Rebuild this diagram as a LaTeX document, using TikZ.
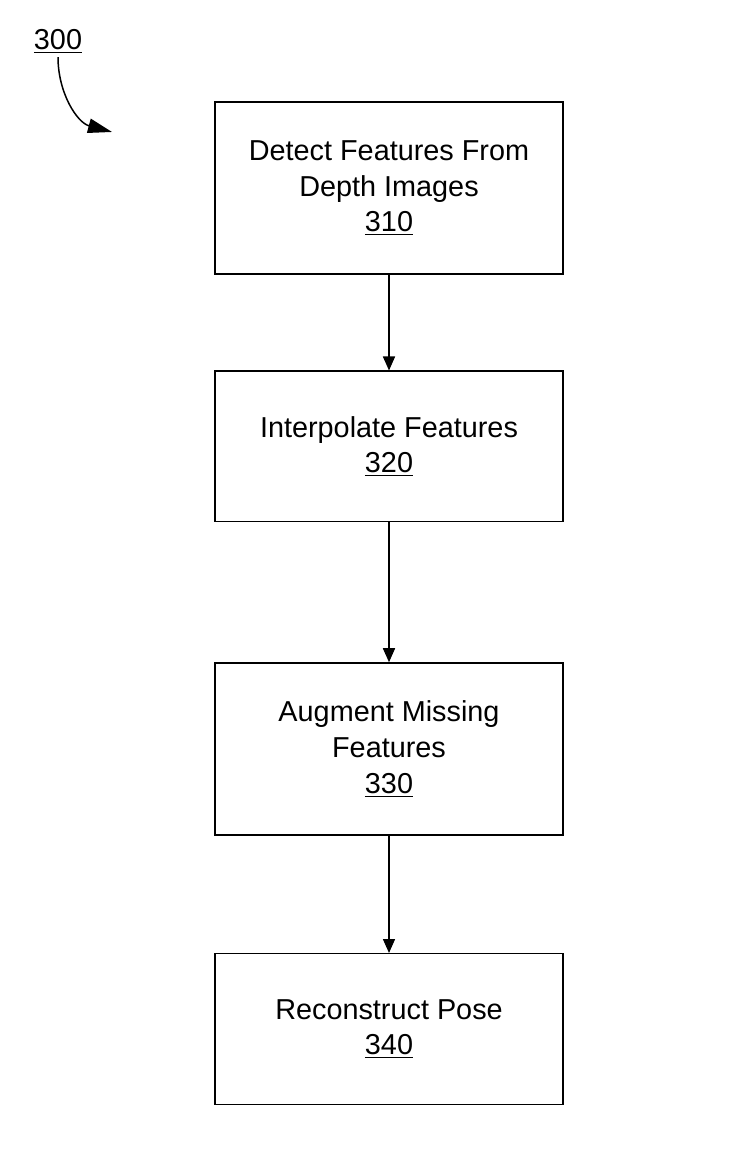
\documentclass[tikz,border=0pt]{standalone}
\usepackage{fontspec}
\setmainfont{Liberation Sans}
\usetikzlibrary{positioning}
\usetikzlibrary{arrows.meta}
\usetikzlibrary{math}

\begin{document}
\begin{tikzpicture}[line width=0.85pt,
  stepbox/.style={draw, minimum width=\boxwidth cm, align=center, inner sep=0pt,
    font=\fontsize{16.4}{20.4}\selectfont},
  flow/.style={-{Triangle[length=2.8mm,width=2.4mm]}}]

  \tikzmath{
    \boxwidth = 6.96;  % width of the step boxes
    \colx     = 7.78;  % x of the column of boxes
    \tall     = 3.44;  % height of the three-line boxes
    \short    = 3.01;  % height of the two-line boxes
  }

  % page size
  \useasboundingbox (0,0) rectangle (14.6,23.38);

  % steps of the method
  \node[stepbox, minimum height=\tall cm]  (detect)  at (\colx,19.62)
    {Detect Features From\\Depth Images\\\underline{310}};
  \node[stepbox, minimum height=\short cm] (interp)  at (\colx,14.45)
    {Interpolate Features\\\underline{320}};
  \node[stepbox, minimum height=\tall cm]  (augment) at (\colx,8.40)
    {Augment Missing\\Features\\\underline{330}};
  \node[stepbox, minimum height=\short cm] (recon)   at (\colx,2.80)
    {Reconstruct Pose\\\underline{340}};

  % arrows between the steps
  \draw[flow] (detect)  -- (interp);
  \draw[flow] (interp)  -- (augment);
  \draw[flow] (augment) -- (recon);

  % figure label with its curved arrow
  \node[anchor=base, inner sep=0.5mm, font=\fontsize{16.4}{20.4}\selectfont] (fig) at (1.16,22.38)
    {\underline{300}};
  \coordinate (figtip) at (2.24,20.74);
  \draw[-{Triangle[length=4.8mm,width=2.9mm]}] (fig.south) to[out=-90, in=165] (figtip);

\end{tikzpicture}
\end{document}
